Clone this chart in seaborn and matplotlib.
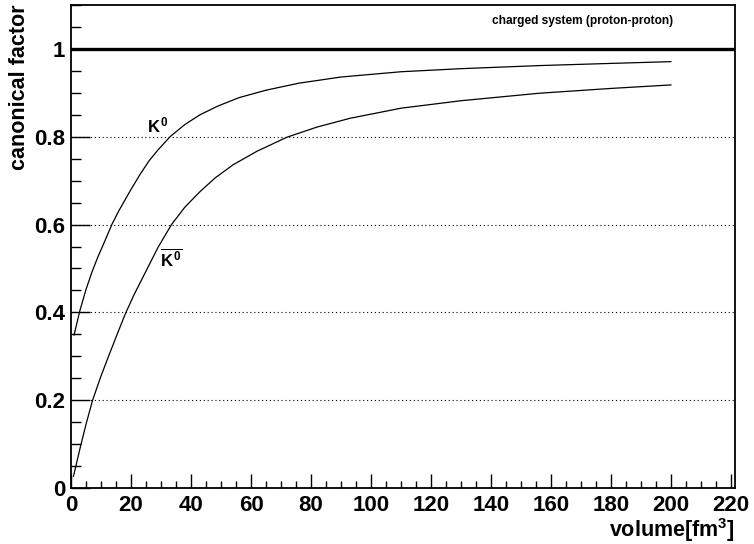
import matplotlib
matplotlib.use("Agg")
import matplotlib.pyplot as plt
from matplotlib.ticker import MultipleLocator, FixedLocator
import seaborn as sns
import pandas as pd

# ---- data ----
k0_volume = [1, 3, 5, 7, 9, 11, 13.6, 16, 20, 23, 26, 29, 33, 38, 43, 49, 56,
             65, 76, 90, 110, 130, 156, 180, 200]
k0_factor = [0.348, 0.405, 0.452, 0.492, 0.527, 0.558, 0.60, 0.632, 0.68, 0.714,
             0.745, 0.77, 0.80, 0.828, 0.85, 0.870, 0.889, 0.906, 0.922, 0.936,
             0.948, 0.955, 0.962, 0.967, 0.971]

k0bar_volume = [0.8, 3, 5, 7.2, 10, 12.8, 15.5, 18, 21, 25, 29, 33.5, 38, 43, 48,
                54, 62, 72, 82, 93, 110, 130, 156, 180, 200]
k0bar_factor = [0.026, 0.09, 0.145, 0.20, 0.255, 0.305, 0.352, 0.395, 0.44, 0.494,
                0.548, 0.60, 0.640, 0.675, 0.706, 0.736, 0.767, 0.799, 0.822, 0.842,
                0.865, 0.882, 0.899, 0.91, 0.918]

x_ticks = [0, 20, 40, 60, 80, 100, 120, 140, 160, 180, 200, 220]
y_ticks = [0, 0.2, 0.4, 0.6, 0.8, 1.0]
y_tick_labels = ["0", "0.2", "0.4", "0.6", "0.8", "1"]
grid_levels = [0.2, 0.4, 0.6, 0.8]
reference_level = 1.0

title_text = "charged system (proton-proton)"
x_label = r"volume[fm$^{3}$]"
y_label = "canonical factor"
k0_label = r"$K^{0}$"
k0bar_label = r"$\overline{K^{0}}$"

df = pd.concat([
    pd.DataFrame({"volume": k0_volume, "factor": k0_factor, "particle": "K0"}),
    pd.DataFrame({"volume": k0bar_volume, "factor": k0bar_factor, "particle": "K0bar"}),
])

sns.set_style("ticks")
plt.rcParams["font.family"] = ["Liberation Sans", "DejaVu Sans"]
plt.rcParams["font.weight"] = "bold"
plt.rcParams["text.color"] = "black"
plt.rcParams["axes.labelcolor"] = "black"
plt.rcParams["xtick.color"] = "black"
plt.rcParams["ytick.color"] = "black"
plt.rcParams["mathtext.fontset"] = "custom"
plt.rcParams["mathtext.rm"] = "Liberation Sans:bold"
plt.rcParams["mathtext.it"] = "Liberation Sans:bold"
plt.rcParams["mathtext.bf"] = "Liberation Sans:bold"

W, H = 754, 544
fig = plt.figure(figsize=(W / 100, H / 100), dpi=100)
L, R, T, B = 71, 735, 5, 488
ax = fig.add_axes([L / W, 1 - B / H, (R - L) / W, (B - T) / H])

for lvl in grid_levels:
    ax.axhline(lvl, color="black", lw=0.8, linestyle=(0, (1, 2.5)), zorder=1)

sns.lineplot(data=df, x="volume", y="factor", units="particle", estimator=None,
             sort=False, color="black", lw=0.9, ax=ax, zorder=3)

ax.axhline(reference_level, color="black", lw=2.4, zorder=4)

ax.set_xlim(0, 221.3)
ax.set_ylim(0, 1.1)
ax.xaxis.set_major_locator(FixedLocator(x_ticks))
ax.xaxis.set_minor_locator(MultipleLocator(5))
ax.yaxis.set_major_locator(FixedLocator(y_ticks))
ax.set_yticklabels(y_tick_labels)
ax.yaxis.set_minor_locator(MultipleLocator(0.05))

ax.tick_params(axis="both", which="both", direction="in", colors="black", width=1,
               labelsize=16, labelcolor="black")
ax.tick_params(axis="y", which="major", length=13.5, pad=4)
ax.tick_params(axis="y", which="minor", length=7)
ax.tick_params(axis="x", which="major", length=10, pad=5)
ax.tick_params(axis="x", which="minor", length=5)
for lab in ax.get_xticklabels() + ax.get_yticklabels():
    lab.set_fontweight("bold")
    lab.set_color("black")

for s in ax.spines.values():
    s.set_visible(True)
    s.set_color("black")
    s.set_linewidth(1.3)

ax.set_xlabel("")
ax.set_ylabel("")

ax.text(25.3, 0.803, k0_label, fontsize=12, color="black", ha="left", va="bottom", zorder=5)
ax.text(29.7, 0.497, k0bar_label, fontsize=12, color="black", ha="left", va="bottom", zorder=5)
ax.text(200.7, 1.064, title_text, fontsize=8.6, fontweight="bold", color="black",
        ha="right", va="center", zorder=5)

fig.text(735 / W, 7 / H, x_label, fontsize=15.5, fontweight="bold", color="black",
         ha="right", va="baseline")
fig.text(20 / W, 1 - 4 / H, y_label, fontsize=15.5, fontweight="bold", color="black",
         rotation=90, ha="center", va="top")

fig.savefig("out.png", dpi=100)
